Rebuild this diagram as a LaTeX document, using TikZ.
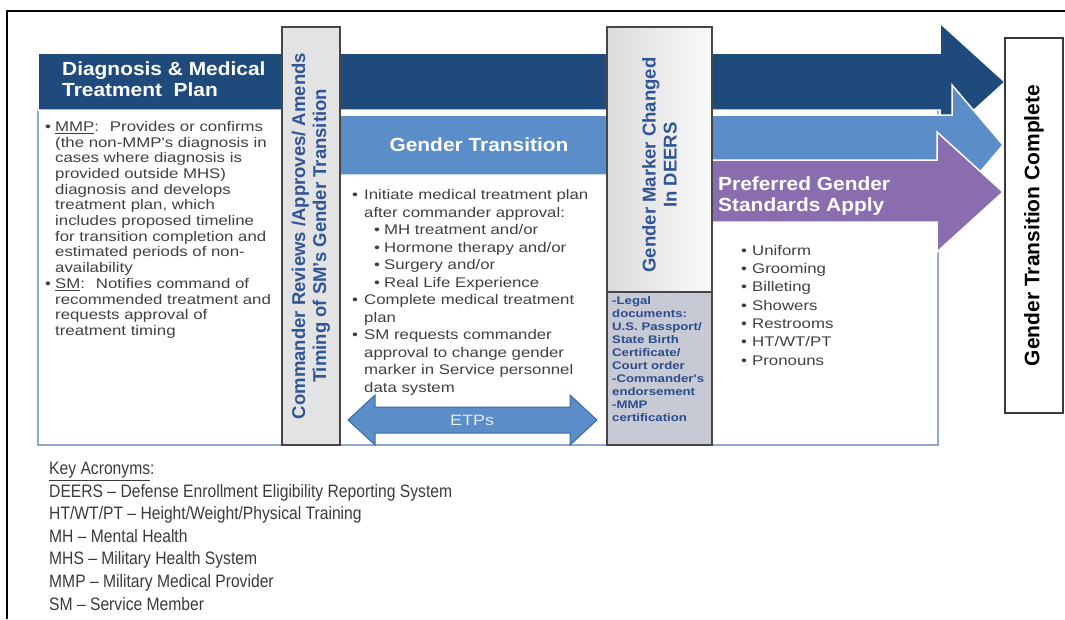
\documentclass[tikz,border=0pt]{standalone}
\usepackage{fontspec}
\setmainfont{Liberation Sans}
\newfontfamily\widef{Liberation Sans}[FakeStretch=1.2]
\newfontfamily\headf{Liberation Sans}[FakeStretch=1.1]
\newfontfamily\keyf{Liberation Sans}[FakeStretch=0.87]
\usetikzlibrary{positioning}
\definecolor{navy}{HTML}{1F4A7C}
\definecolor{skyblue}{HTML}{5B8DC8}
\definecolor{lilac}{HTML}{8A6DAE}
\definecolor{boxblue}{HTML}{2F5597}
\definecolor{docblue}{HTML}{2B4C8C}
\definecolor{txtgray}{HTML}{404040}
\definecolor{edgeblue}{HTML}{8DA9D0}
\definecolor{docgray}{HTML}{C7CAD4}
\definecolor{etpedge}{HTML}{3A6EA5}
\newcommand{\bul}[1][10pt]{\makebox[#1][l]{•}}
\newcommand{\indt}[1][10pt]{\hspace*{#1}}

\begin{document}
\begin{tikzpicture}[x=1pt,y=-1pt,
  arrowband/.style={draw=white,line width=1.5pt},
  rotbox/.style={rotate=90,draw=gray!55!black,line width=1.2pt,inner sep=0pt,align=center,
    text=boxblue,font=\bfseries\fontsize{18.5}{21}\selectfont},
  headtxt/.style={text=white,inner sep=0pt,align=left,font=\headf\bfseries\fontsize{19}{21}\selectfont},
  bodytxt/.style={text=txtgray,inner sep=0pt,align=left,anchor=north west}]
  \useasboundingbox (0,0) rectangle (1065,619);
  \draw[edgeblue,line width=1.5pt] (38,108) rectangle (938,445);
  \fill[navy,arrowband] (38,53) -- (940,53) -- (940,23) -- (1005,82) -- (940,141) -- (940,110) -- (38,110) -- cycle;
  \fill[skyblue,arrowband] (340,115) -- (952,115) -- (952,85) -- (1003,145) -- (952,205) -- (952,175) -- (340,175) -- cycle;
  \fill[lilac,arrowband] (712,160) -- (937,160) -- (937,132) -- (1003,192) -- (937,252) -- (937,222) -- (712,222) -- cycle;
  \node[rotbox,fill=gray!22,minimum width=418,minimum height=58] (cmdr) at (311,236)
    {Commander Reviews /Approves/ Amends\\Timing of SM's Gender Transition};
  \node[rotbox,left color=gray!28,right color=gray!4,minimum width=265,minimum height=105] (deers) at (659.5,159.5) {};
  \node[rotbox,draw=none] (deerstxt) at (659.5,165) {Gender Marker Changed\\In DEERS};
  \node[draw=gray!55!black,line width=1.2pt,fill=docgray,minimum width=105,minimum height=153,inner sep=0pt] (docbox) at (659.5,368.5) {};
  \node[rotbox,fill=white,text=black,draw=gray!45!black,minimum width=375,minimum height=58,
    font=\bfseries\fontsize{21}{23}\selectfont] (done) at (1034,225.5) {Gender Transition Complete};
  \node[headtxt,anchor=north west] (dxtitle) at (62,62) {Diagnosis \& Medical\\Treatment~ Plan};
  \node[headtxt,anchor=center] (gttitle) at (479,145) {Gender Transition};
  \node[headtxt,anchor=north west] (pgtitle) at (718,177) {Preferred Gender\\Standards Apply};
  \node[bodytxt,font=\widef\fontsize{14}{15.7}\selectfont] (dxtxt) at (45,121) {%
    \bul\underline{MMP}:~ Provides or confirms\\
    \indt(the non-MMP's diagnosis in\\
    \indt cases where diagnosis is\\
    \indt provided outside MHS)\\
    \indt diagnosis and develops\\
    \indt treatment plan, which\\
    \indt includes proposed timeline\\
    \indt for transition completion and\\
    \indt estimated periods of non-\\
    \indt availability\\
    \bul\underline{SM}:~ Notifies command of\\
    \indt recommended treatment and\\
    \indt requests approval of\\
    \indt treatment timing};
  \node[bodytxt,font=\widef\fontsize{14}{17.5}\selectfont] (gttxt) at (352,189.5) {%
    \bul[12pt]Initiate medical treatment plan\\
    \indt[12pt]after commander approval:\\
    \indt[22pt]\bul MH treatment and/or\\
    \indt[22pt]\bul Hormone therapy and/or\\
    \indt[22pt]\bul Surgery and/or\\
    \indt[22pt]\bul Real Life Experience\\
    \bul[12pt]Complete medical treatment\\
    \indt[12pt]plan\\
    \bul[12pt]SM requests commander\\
    \indt[12pt]approval to change gender\\
    \indt[12pt]marker in Service personnel\\
    \indt[12pt]data system};
  \node[bodytxt,font=\widef\fontsize{14}{18.3}\selectfont] (pgtxt) at (741,245) {%
    \bul[11pt]Uniform\\ \bul[11pt]Grooming\\ \bul[11pt]Billeting\\ \bul[11pt]Showers\\
    \bul[11pt]Restrooms\\ \bul[11pt]HT/WT/PT\\ \bul[11pt]Pronouns};
  \node[bodytxt,text=docblue,font=\widef\bfseries\fontsize{11}{13}\selectfont] (doctxt) at (612,296) {%
    -Legal\\documents:\\U.S. Passport/\\State Birth\\Certificate/\\Court order\\
    -Commander's\\endorsement\\-MMP\\certification};
  \fill[skyblue,draw=etpedge,line width=1pt] (348,420) -- (375,395) -- (375,407) -- (570,407) -- (570,395) -- (597,420)
    -- (570,445) -- (570,433) -- (375,433) -- (375,445) -- cycle;
  \node[text=white!85!skyblue,font=\widef\fontsize{15}{15}\selectfont] (etps) at (472,420) {ETPs};
  \node[bodytxt,text=txtgray!90!black,font=\keyf\fontsize{18}{22.6}\selectfont] (keytxt) at (49,462) {%
    \underline{Key Acronyms}:\\
    DEERS – Defense Enrollment Eligibility Reporting System\\
    HT/WT/PT – Height/Weight/Physical Training\\
    MH – Mental Health\\
    MHS – Military Health System\\
    MMP – Military Medical Provider\\
    SM – Service Member};
  \draw[line width=2.5pt] (7,619) -- (7,11) -- (1065,11);
\end{tikzpicture}
\end{document}
